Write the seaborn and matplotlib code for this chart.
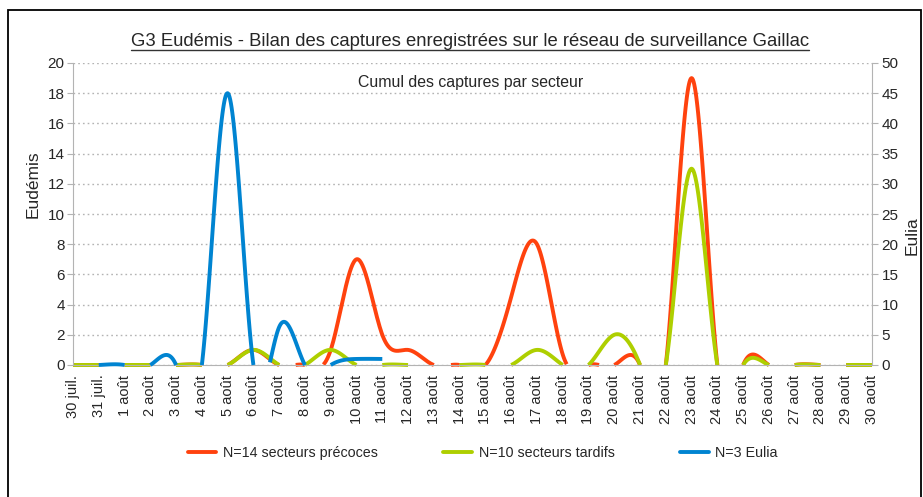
import numpy as np
import pandas as pd
import matplotlib
matplotlib.use("Agg")
import matplotlib.pyplot as plt
import seaborn as sns
from matplotlib.lines import Line2D
from matplotlib.patches import Rectangle

# Dates (categories) and captures per series
dates = ["30 juil.", "31 juil."] + [f"{d} août" for d in range(1, 31)]

precoces = [0, 0, 0, 0, 0, 0, 0, 1, 0, 0, 1, 7, 2, 1, 0, 0,
            0, 4.5, 8.0, 0.7, 0, 0, 0, 0, 19, 0, 0, 0, 0, 0, 0, 0]
tardifs = [0, 0, 0, 0, 0, 0, 0, 1, 0, 0, 1, 0, 0, 0, 0, 0,
           0, 0, 1, 0, 0, 2, 0, 0, 13, 0, 0, 0, 0, 0, 0, 0]
eulia = [0, 0, 0, 0, 0, 0, 45, 0, 6.3, 0, 0, 1, 1] + [None] * 19

RED = "#ff420e"
GREEN = "#aecf00"
BLUE = "#0084d1"
GRAY = "#b3b3b3"


def smooth_pieces(values, n=40):
    """Natural cubic spline through the points (like the 'smooth line' option),
    keeping only the parts above the axis, as the plot area clips them."""
    y = np.array([np.nan if v is None else v for v in values], dtype=float)
    idx = np.where(~np.isnan(y))[0]
    runs = np.split(idx, np.where(np.diff(idx) != 1)[0] + 1)
    xs_all, ys_all = [], []
    for run in runs:
        xs, ys = run.astype(float), y[run]
        m = len(ys)
        M = np.zeros(m)
        if m > 2:
            A = np.eye(m - 2) * 4 + np.eye(m - 2, k=1) + np.eye(m - 2, k=-1)
            rhs = 6 * (ys[2:] - 2 * ys[1:-1] + ys[:-2])
            M[1:-1] = np.linalg.solve(A, rhs)
        t = np.linspace(0, 1, n)
        for i in range(m - 1):
            tt = t if i == 0 else t[1:]
            s = ((1 - tt) * ys[i] + tt * ys[i + 1]
                 + ((1 - tt) ** 3 - (1 - tt)) * M[i] / 6
                 + (tt ** 3 - tt) * M[i + 1] / 6)
            xs_all.append(xs[i] + tt)
            ys_all.append(s)
        xs_all.append([np.nan])
        ys_all.append([np.nan])
    xx = np.concatenate(xs_all)
    yy = np.concatenate(ys_all)
    vis = yy >= -1e-6
    seg = np.cumsum(np.r_[True, vis[1:] != vis[:-1]])
    df = pd.DataFrame({"x": xx, "y": yy, "seg": seg})
    return df[vis]


sns.set_style("white")
plt.rcParams["font.family"] = ["Liberation Sans", "DejaVu Sans"]

fig = plt.figure(figsize=(9.23, 4.97), dpi=100)
ax = fig.add_axes([73 / 923, 1 - 365 / 497, 799 / 923, 302 / 497])
ax2 = ax.twinx()

for vals, col in [(precoces, RED), (tardifs, GREEN)]:
    sns.lineplot(data=smooth_pieces(vals), x="x", y="y", units="seg",
                 estimator=None, color=col, linewidth=2.8, ax=ax,
                 legend=False, clip_on=False, solid_capstyle="butt")
sns.lineplot(data=smooth_pieces(eulia), x="x", y="y", units="seg",
             estimator=None, color=BLUE, linewidth=2.8, ax=ax2,
             legend=False, clip_on=False, solid_capstyle="butt")

ax.set_xlim(0, 31)
ax.set_ylim(0, 20)
ax2.set_ylim(0, 50)
ax.set_xticks(range(len(dates)))
ax.set_xticklabels(dates, rotation=90)
ax.set_yticks(range(0, 21, 2))
ax2.set_yticks(range(0, 51, 5))
ax.tick_params(axis="both", direction="out", length=4, color=GRAY,
               labelsize=11, pad=2)
ax.tick_params(axis="x", labelsize=10.5, pad=3)
ax2.tick_params(axis="y", direction="out", length=4, color=GRAY,
                labelsize=11, pad=3)
ax.yaxis.grid(True, linestyle=(0, (1.2, 2.2)), color=GRAY, linewidth=1)
ax.set_axisbelow(True)

for name, sp in ax.spines.items():
    sp.set_visible(name in ("left", "bottom"))
    sp.set_color(GRAY)
for name, sp in ax2.spines.items():
    sp.set_visible(name == "right")
    sp.set_color(GRAY)

ax.set_xlabel("")
ax.set_ylabel("Eudémis", fontsize=12.5)
ax.yaxis.set_label_coords(-0.041, 0.6)
ax2.set_ylabel("Eulia", fontsize=12.5)
ax2.yaxis.set_label_coords(1.041, 0.43)

ax.text(0.498, 0.937, "Cumul des captures par secteur", transform=ax.transAxes,
        ha="center", va="center", fontsize=11.4)

title = fig.text(0.509, 1 - 42 / 497, "G3 Eudémis - Bilan des captures enregistrées "
                 "sur le réseau de surveillance Gaillac", ha="center",
                 va="center", fontsize=13.3)

handles = [Line2D([], [], color=c, lw=2.8) for c in (RED, GREEN, BLUE)]
fig.legend(handles, ["N=14 secteurs précoces", "N=10 secteurs tardifs", "N=3 Eulia"],
           loc="center", bbox_to_anchor=(0.523, 1 - 453 / 497), ncol=3,
           frameon=False, fontsize=10.3, handlelength=2.0, handletextpad=0.45,
           columnspacing=4.6)

fig.patches.append(Rectangle((8 / 923, -0.02), 913 / 923, 1.02 - 10 / 497,
                             transform=fig.transFigure, fill=False,
                             edgecolor="black", linewidth=1.3))

# underline the title
fig.canvas.draw()
bb = title.get_window_extent().transformed(fig.transFigure.inverted())
fig.add_artist(Line2D([bb.x0, bb.x1], [bb.y0 + 0.002, bb.y0 + 0.002],
                      transform=fig.transFigure, color="#333333", lw=1))

fig.savefig("out.png", dpi=100)
